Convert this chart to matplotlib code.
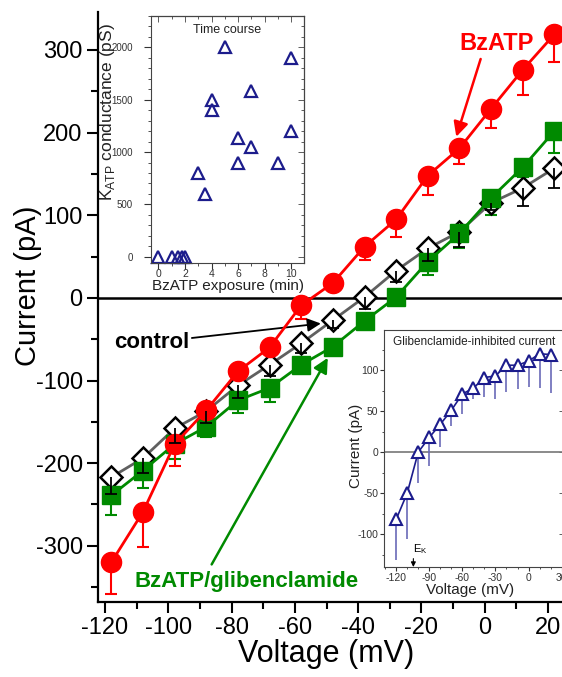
import matplotlib
matplotlib.use("Agg")
import matplotlib.pyplot as plt
import numpy as np
from matplotlib.ticker import MultipleLocator

plt.rcParams["font.family"] = ["Liberation Sans", "DejaVu Sans"]
plt.rcParams["mathtext.fontset"] = "custom"
plt.rcParams["mathtext.rm"] = "Liberation Sans"
plt.rcParams["axes.unicode_minus"] = False

# main I-V data (mV, pA); error bars are drawn downward only
voltage = [-118, -108, -98, -88, -78, -68, -58, -48, -38, -28, -18, -8, 2, 12, 22]
bzatp = [-320, -259, -177, -136, -89, -60, -9, 18, 62, 95, 148, 181, 229, 276, 319]
bzatp_err = [38, 42, 27, 25, 12, 16, 16, 10, 16, 21, 23, 19, 23, 31, 34]
control = [-217, -194, -158, -137, -106, -81, -55, -27, 1, 33, 60, 80, 115, 133, 157]
control_err = [20, 18, 17, 14, 15, 14, 12, 10, 14, 14, 15, 18, 9, 22, 24]
glib = [-239, -209, -177, -156, -124, -109, -81, -59, -28, 1, 44, 78, 121, 158, 202]
glib_err = [24, 21, 18, 12, 15, 17, 10, 5, 8, 6, 16, 18, 21, 12, 27]

# inset 1: time course
exposure = [0, 1, 1.5, 1.75, 2, 3, 3.5, 4, 4, 5, 6, 6, 7, 7, 9, 10, 10]
conductance = [0, 0, 0, 0, 0, 800, 600, 1500, 1400, 2000, 1130, 900, 1580, 1050, 900, 1900, 1200]

# inset 2: glibenclamide-inhibited current
gv = [-120, -110, -100, -90, -80, -70, -60, -50, -40, -30, -20, -10, 0, 10, 20]
gi = [-82, -50, 0, 18, 34, 51, 71, 78, 91, 93, 106, 106, 111, 120, 119]
gi_err = [50, 56, 37, 35, 28, 19, 24, 13, 24, 28, 33, 29, 32, 42, 47]

RED = "#ff0000"
GREEN = "#008a00"
NAVY = "#1c1c8c"


def lower_err(ax, x, y, err, color, cap, lw=1.5, z=3):
    x = np.asarray(x); y = np.asarray(y); err = np.asarray(err)
    ax.vlines(x, y - err, y, color=color, lw=lw, zorder=z)
    if cap:
        ax.plot(x, y - err, ls="none", marker="_", ms=cap, mew=lw, color=color, zorder=z)


fig = plt.figure(figsize=(5.62, 6.77), dpi=100)
ax = fig.add_axes([0.1744, 0.1108, 0.8256, 0.8715])

ax.axhline(0, color="black", lw=1.8, zorder=1)

# control (grey line, open diamonds)
ax.plot(voltage, control, color="#606060", lw=2, zorder=2)
ax.plot(voltage, control, ls="none", marker="D", ms=11.5, mfc="white", mec="black", mew=1.8, zorder=4)
lower_err(ax, voltage, control, control_err, "black", 9, lw=1.3, z=6)

# BzATP/glibenclamide (green squares)
lower_err(ax, voltage, glib, glib_err, GREEN, 9, z=3)
ax.plot(voltage, glib, color=GREEN, lw=2, marker="s", ms=13, mfc=GREEN, mec=GREEN, zorder=5)

# BzATP (red circles)
lower_err(ax, voltage, bzatp, bzatp_err, RED, 9, z=3)
ax.plot(voltage, bzatp, color=RED, lw=2, marker="o", ms=14.5, mfc=RED, mec=RED, zorder=5)

ax.set_xlim(-122.2, 24.4)
ax.set_ylim(-368, 346)
ax.xaxis.set_major_locator(MultipleLocator(20))
ax.xaxis.set_minor_locator(MultipleLocator(10))
ax.yaxis.set_major_locator(MultipleLocator(100))
ax.yaxis.set_minor_locator(MultipleLocator(50))
for s in ["top", "right"]:
    ax.spines[s].set_visible(False)
for s in ["left", "bottom"]:
    ax.spines[s].set_linewidth(1.6)
ax.tick_params(which="major", length=8, width=1.5, labelsize=17, pad=3)
ax.tick_params(which="minor", length=5, width=1.5)
ax.set_xlabel("Voltage (mV)", fontsize=22)
ax.set_ylabel("Current (pA)", fontsize=21)
ax.xaxis.set_label_coords(0.491, -0.062)
ax.yaxis.set_label_coords(-0.12, 0.536)

# annotations
ax.annotate("BzATP", xy=(-9, 195), xytext=(3.8, 308), color=RED, fontsize=17,
            fontweight="bold", ha="center", va="center",
            arrowprops=dict(arrowstyle="-|>", color=RED, lw=1.8, mutation_scale=22,
                            shrinkA=1, shrinkB=0, relpos=(0.3, 0.0)))
ax.annotate("control", xy=(-51.8, -31), xytext=(-117.2, -54), color="black", fontsize=16,
            fontweight="bold", ha="left", va="center",
            arrowprops=dict(arrowstyle="-|>", color="black", lw=1.3, mutation_scale=20,
                            shrinkA=0, shrinkB=0))
ax.annotate("BzATP/glibenclamide", xy=(-49.6, -72.5), xytext=(-110.8, -343), color=GREEN,
            fontsize=16, fontweight="bold", ha="left", va="center",
            arrowprops=dict(arrowstyle="-|>", color=GREEN, lw=1.8, mutation_scale=22,
                            shrinkA=3, shrinkB=0, relpos=(0.33, 1.0)))

# inset 1: time course
ax1 = fig.add_axes([0.2687, 0.6115, 0.2722, 0.3649])
ax1.set_facecolor("white")
ax1.plot(exposure, conductance, ls="none", marker="^", ms=8.5, mfc="none", mec=NAVY, mew=1.6,
         clip_on=False)
ax1.set_xlim(-0.55, 10.95)
ax1.set_ylim(-60, 2300)
ax1.xaxis.set_major_locator(MultipleLocator(2))
ax1.xaxis.set_minor_locator(MultipleLocator(1))
ax1.yaxis.set_major_locator(MultipleLocator(500))
ax1.yaxis.set_minor_locator(MultipleLocator(100))
ax1.tick_params(which="major", length=4, width=0.8, labelsize=7, pad=1, colors="#333333")
ax1.tick_params(axis="x", labelsize=7.5, pad=0.5)
ax1.tick_params(axis="y", which="major", length=5, pad=8)
ax1.tick_params(which="minor", length=2, width=0.6, colors="#333333")
for s in ax1.spines.values():
    s.set_linewidth(0.8)
    s.set_color("#444444")
sy = ax1.secondary_yaxis("right")
sy.yaxis.set_major_locator(MultipleLocator(500))
sy.yaxis.set_minor_locator(MultipleLocator(100))
sy.tick_params(which="both", direction="in", labelright=False, width=0.6, colors="#444444")
sy.tick_params(which="major", length=4)
sy.tick_params(which="minor", length=2)
sx = ax1.secondary_xaxis("top")
sx.xaxis.set_major_locator(MultipleLocator(2))
sx.xaxis.set_minor_locator(MultipleLocator(1))
sx.tick_params(which="both", direction="in", labeltop=False, width=0.6, colors="#444444")
sx.tick_params(which="major", length=4)
sx.tick_params(which="minor", length=2)
ax1.set_xlabel("BzATP exposure (min)", fontsize=11, color="#222222")
ax1.set_ylabel("K$_{\\mathrm{ATP}}$ conductance (pS)", fontsize=12.5, color="#222222")
ax1.xaxis.set_label_coords(0.503, -0.064)
ax1.yaxis.set_label_coords(-0.22, 0.611)
ax1.text(0.497, 0.943, "Time course", transform=ax1.transAxes, ha="center", va="center",
         fontsize=9, color="#222222")

# inset 2: glibenclamide-inhibited current
ax2 = fig.add_axes([0.6833, 0.1625, 0.322, 0.3501])
ax2.set_facecolor("white")
ax2.axhline(0, color="#777777", lw=1.2, zorder=1)
lower_err(ax2, gv, gi, gi_err, "#6a6ab8", 0, lw=1.2, z=2)
ax2.plot(gv, gi, color=NAVY, lw=1.2, marker="^", ms=8.5, mfc="white", mec=NAVY, mew=1.5, zorder=3)
ax2.set_xlim(-131, 33)
ax2.set_ylim(-140, 149)
ax2.xaxis.set_major_locator(MultipleLocator(30))
ax2.xaxis.set_minor_locator(MultipleLocator(10))
ax2.yaxis.set_major_locator(MultipleLocator(50))
ax2.yaxis.set_minor_locator(MultipleLocator(25))
ax2.tick_params(which="major", length=3, width=0.8, labelsize=7.5, pad=1, colors="#333333")
ax2.tick_params(which="minor", length=1.5, width=0.6, colors="#333333")
for s in ax2.spines.values():
    s.set_linewidth(0.8)
    s.set_color("#444444")
sy2 = ax2.secondary_yaxis("right")
sy2.yaxis.set_major_locator(MultipleLocator(50))
sy2.tick_params(which="both", direction="in", labelright=False, length=4, width=0.6,
                colors="#444444")
ax2.set_xlabel("Voltage (mV)", fontsize=11, color="#222222")
ax2.set_ylabel("Current (pA)", fontsize=11, color="#222222")
ax2.xaxis.set_label_coords(0.475, -0.068)
ax2.yaxis.set_label_coords(-0.115, 0.51)
ax2.text(0.497, 0.949, "Glibenclamide-inhibited current", transform=ax2.transAxes,
         ha="center", va="center", fontsize=8.5, color="#222222")
ax2.annotate("E$_\\mathrm{K}$", xy=(-104.4, -140), xytext=(-104.4, -118), fontsize=8,
             ha="left", va="center",
             arrowprops=dict(arrowstyle="-|>", color="black", lw=0.8, mutation_scale=7,
                             shrinkA=0, shrinkB=0, relpos=(0.0, 0.0)))

fig.savefig("out.png", dpi=100)
